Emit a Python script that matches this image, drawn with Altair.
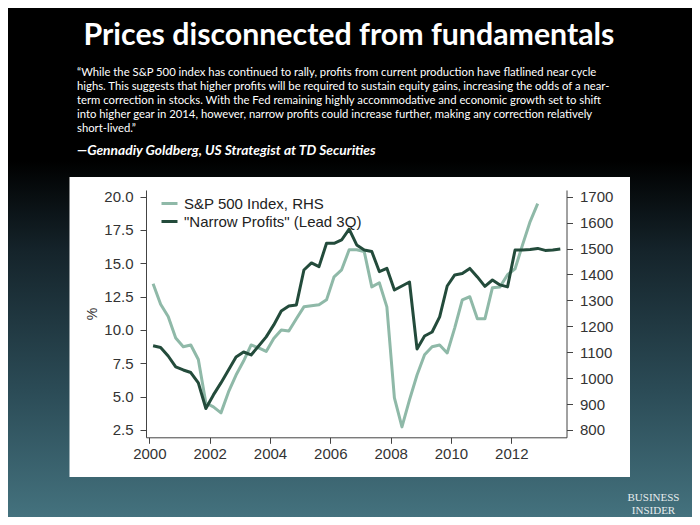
import altair as alt
import pandas as pd

# ---------------- data ----------------
series_names = ["S&P 500 Index, RHS", "\"Narrow Profits\" (Lead 3Q)"]

# quarterly observations, first one centred in 2000Q1
start_year = 2000.125
step = 0.25

sp500 = [1364, 1285, 1238, 1155, 1121, 1128, 1072, 904, 889, 866,
         947, 1012, 1066, 1128, 1117, 1103, 1153, 1186, 1182, 1229,
         1275, 1279, 1283, 1302, 1391, 1418, 1495, 1495, 1488, 1352,
         1368, 1275, 924, 812, 916, 1012, 1090, 1121, 1128, 1097,
         1194, 1302, 1314, 1229, 1229, 1349, 1352, 1399, 1422, 1515,
         1604, 1673]

profits = [8.82, 8.69, 8.05, 7.23, 7.0, 6.81, 6.03, 4.11, 5.13, 6.03,
           7.0, 7.98, 8.35, 8.13, 8.8, 9.48, 10.38, 11.43, 11.8, 11.88,
           14.5, 15.03, 14.75, 16.5, 16.5, 16.75, 17.56, 16.38, 16.0, 15.88,
           14.38, 14.63, 13.0, 13.3, 13.6, 8.58, 9.55, 9.85, 10.98, 13.3,
           14.13, 14.24, 14.62, 13.98, 13.27, 13.75, 13.38, 13.23, 16.0, 16.0,
           16.04, 16.12, 15.97, 16.0, 16.08]

x_ticks = [2000, 2002, 2004, 2006, 2008, 2010, 2012]
left_ticks = [2.5, 5.0, 7.5, 10.0, 12.5, 15.0, 17.5, 20.0]
right_ticks = [800, 900, 1000, 1100, 1200, 1300, 1400, 1500, 1600, 1700]

title_text = "Prices disconnected from fundamentals"
quote_lines = [
    "\u201cWhile the S&P 500 index has continued to rally, profits from current production have flatlined near cycle",
    "highs. This suggests that higher profits will be required to sustain equity gains, increasing the odds of a near-",
    "term correction in stocks. With the Fed remaining highly accommodative and economic growth set to shift",
    "into higher gear in 2014, however, narrow profits could increase further, making any correction relatively",
    "short-lived.\u201d",
]
attribution = "\u2014Gennadiy Goldberg, US Strategist at TD Securities"
brand_lines = ["BUSINESS", "INSIDER"]

# ---------------- frames ----------------
sp_df = pd.DataFrame({
    "t": [start_year + step * i for i in range(len(sp500))],
    "value": sp500,
    "series": series_names[0],
})
pr_df = pd.DataFrame({
    "t": [start_year + step * i for i in range(len(profits))],
    "value": profits,
    "series": series_names[1],
})

LIGHT = "#8fb9a8"
DARK = "#234b3b"
AXIS_FONT = "Liberation Sans"

x_scale = alt.Scale(domain=[1999.89, 2013.83], nice=False, zero=False)
color_scale = alt.Scale(domain=series_names, range=[LIGHT, DARK])

x_enc = alt.X("t:Q", scale=x_scale, title=None,
              axis=alt.Axis(values=x_ticks, format="d", grid=False, tickSize=6,
                            labelPadding=3, labelFontSize=15, labelFont=AXIS_FONT,
                            labelColor="#333", domainColor="#444", tickColor="#444",
                            labelFlush=False, labelOverlap=False, zindex=2))

legend = alt.Legend(orient="none", legendX=14, legendY=4, title=None,
                    direction="vertical", symbolType="stroke", symbolStrokeWidth=3,
                    symbolSize=256, labelFontSize=15, labelFont=AXIS_FONT,
                    labelColor="#222", rowPadding=0, labelOffset=5, padding=0,
                    labelLimit=400)

sp_line = alt.Chart(sp_df).mark_line(strokeWidth=3, strokeJoin="round").encode(
    x=x_enc,
    y=alt.Y("value:Q", scale=alt.Scale(domain=[771.8, 1725.8], nice=False, zero=False),
            axis=alt.Axis(orient="right", values=right_ticks, format="d", grid=False,
                          title=None, tickSize=6, labelPadding=7, labelFontSize=15,
                          labelFont=AXIS_FONT, labelColor="#333", domainColor="#444",
                          tickColor="#444", labelFlush=False, labelOverlap=False,
                          zindex=2)),
    color=alt.Color("series:N", scale=color_scale, legend=legend),
)

pr_line = alt.Chart(pr_df).mark_line(strokeWidth=3, strokeJoin="round").encode(
    x=x_enc,
    y=alt.Y("value:Q", scale=alt.Scale(domain=[1.95, 20.5], nice=False, zero=False),
            axis=alt.Axis(orient="left", values=left_ticks, format=".1f", grid=False,
                          title="%", titleFontSize=14, titleFont=AXIS_FONT,
                          titleFontWeight="normal", titleColor="#333", titlePadding=4,
                          tickSize=6, labelPadding=7, labelFontSize=15,
                          labelFont=AXIS_FONT, labelColor="#333", domainColor="#444",
                          tickColor="#444", labelFlush=False, labelOverlap=False,
                          zindex=2)),
    color=alt.Color("series:N", scale=color_scale, legend=legend),
)

one = pd.DataFrame({"k": [0]})

bg = alt.Chart(one).mark_rect(
    color=alt.LinearGradient(
        gradient="linear", x1=0, x2=0, y1=0, y2=1,
        stops=[alt.GradientStop(color="#000000", offset=0),
               alt.GradientStop(color="#000000", offset=0.3),
               alt.GradientStop(color="#15242b", offset=0.48),
               alt.GradientStop(color="#2b4b56", offset=0.75),
               alt.GradientStop(color="#44727e", offset=1)])
).encode(x=alt.value(-138), x2=alt.value(546), y=alt.value(-182), y2=alt.value(327))

panel = alt.Chart(one).mark_rect(color="white").encode(
    x=alt.value(-76.5), x2=alt.value(484), y=alt.value(-13), y2=alt.value(287))

title = alt.Chart(pd.DataFrame({"s": [title_text]})).mark_text(
    font="Lato", fontWeight="bold", fontSize=30.3, color="white",
    align="center", baseline="alphabetic"
).encode(x=alt.value(203), y=alt.value(-145), text="s:N")

quote = alt.Chart(pd.DataFrame({"s": ["\n".join(quote_lines)]})).mark_text(
    font="Lato", fontSize=11.3, color="white", align="left", baseline="alphabetic",
    lineBreak="\n", lineHeight=14
).encode(x=alt.value(-69), y=alt.value(-114.5), text="s:N")

attr = alt.Chart(pd.DataFrame({"s": [attribution]})).mark_text(
    font="Lato", fontSize=13.8, fontWeight="bold", fontStyle="italic", color="white",
    align="left", baseline="alphabetic"
).encode(x=alt.value(-69), y=alt.value(-35), text="s:N")

brand = alt.Chart(pd.DataFrame({"s": ["\n".join(brand_lines)]})).mark_text(
    font="Liberation Serif", fontSize=11, color="#e6eced", align="center",
    baseline="alphabetic", lineBreak="\n", lineHeight=12.5
).encode(x=alt.value(507.5), y=alt.value(311), text="s:N")

chart = alt.layer(bg, panel, sp_line, pr_line, title, quote, attr, brand).resolve_scale(
    y="independent"
).properties(
    width=420.5, height=247.3,
    padding={"left": 138, "top": 182, "right": 125.5, "bottom": 79.7},
    autosize=alt.AutoSizeParams(type="none"),
    background="#000000",
).configure_view(stroke=None)

chart.save("out.html", embed_options={"renderer": "svg", "actions": False})
